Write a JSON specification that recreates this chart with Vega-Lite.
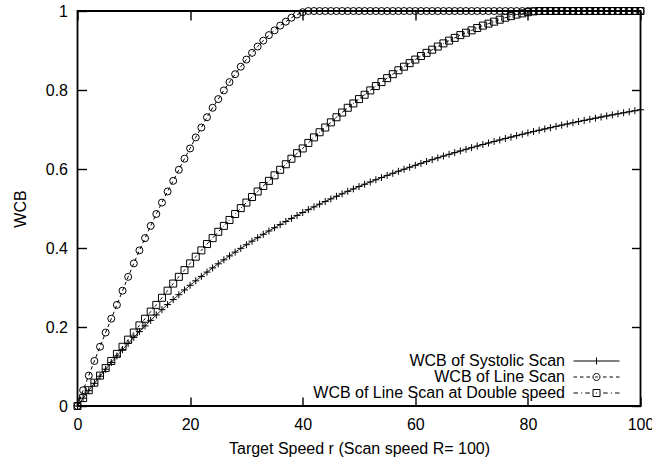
{
  "$schema": "https://vega.github.io/schema/vega-lite/v6.json",
  "autosize": {"type": "none"},
  "width": 563,
  "height": 395,
  "padding": {"left": 77.5, "top": 11, "right": 11.5, "bottom": 55},
  "background": "white",
  "data": {"values": [
    {"r":0,"s":0,"l":0,"d":0},
    {"r":1,"s":0.0197,"l":0.040,"d":0.020},
    {"r":2,"s":0.0388,"l":0.077,"d":0.040},
    {"r":3,"s":0.0574,"l":0.114,"d":0.059},
    {"r":4,"s":0.0754,"l":0.150,"d":0.077},
    {"r":5,"s":0.0930,"l":0.186,"d":0.096},
    {"r":6,"s":0.1100,"l":0.221,"d":0.114},
    {"r":7,"s":0.1266,"l":0.256,"d":0.132},
    {"r":8,"s":0.1427,"l":0.292,"d":0.150},
    {"r":9,"s":0.1583,"l":0.327,"d":0.168},
    {"r":10,"s":0.1736,"l":0.361,"d":0.186},
    {"r":11,"s":0.1884,"l":0.394,"d":0.204},
    {"r":12,"s":0.2028,"l":0.425,"d":0.221},
    {"r":13,"s":0.2168,"l":0.456,"d":0.239},
    {"r":14,"s":0.2305,"l":0.486,"d":0.256},
    {"r":15,"s":0.2439,"l":0.515,"d":0.274},
    {"r":16,"s":0.2568,"l":0.543,"d":0.292},
    {"r":17,"s":0.2695,"l":0.570,"d":0.310},
    {"r":18,"s":0.2818,"l":0.598,"d":0.327},
    {"r":19,"s":0.2938,"l":0.626,"d":0.344},
    {"r":20,"s":0.3056,"l":0.652,"d":0.361},
    {"r":21,"s":0.3170,"l":0.680,"d":0.378},
    {"r":22,"s":0.3281,"l":0.705,"d":0.394},
    {"r":23,"s":0.3390,"l":0.731,"d":0.410},
    {"r":24,"s":0.3496,"l":0.755,"d":0.425},
    {"r":25,"s":0.3600,"l":0.777,"d":0.441},
    {"r":26,"s":0.3701,"l":0.799,"d":0.456},
    {"r":27,"s":0.3800,"l":0.820,"d":0.471},
    {"r":28,"s":0.3896,"l":0.840,"d":0.486},
    {"r":29,"s":0.3991,"l":0.859,"d":0.501},
    {"r":30,"s":0.4083,"l":0.877,"d":0.515},
    {"r":31,"s":0.4173,"l":0.894,"d":0.529},
    {"r":32,"s":0.4261,"l":0.910,"d":0.543},
    {"r":33,"s":0.4347,"l":0.925,"d":0.557},
    {"r":34,"s":0.4431,"l":0.939,"d":0.570},
    {"r":35,"s":0.4513,"l":0.951,"d":0.584},
    {"r":36,"s":0.4593,"l":0.963,"d":0.598},
    {"r":37,"s":0.4672,"l":0.973,"d":0.612},
    {"r":38,"s":0.4749,"l":0.983,"d":0.626},
    {"r":39,"s":0.4824,"l":0.991,"d":0.640},
    {"r":40,"s":0.4898,"l":0.997,"d":0.652},
    {"r":41,"s":0.4970,"l":1,"d":0.666},
    {"r":42,"s":0.5041,"l":1,"d":0.680},
    {"r":43,"s":0.5110,"l":1,"d":0.693},
    {"r":44,"s":0.5177,"l":1,"d":0.705},
    {"r":45,"s":0.5244,"l":1,"d":0.718},
    {"r":46,"s":0.5309,"l":1,"d":0.731},
    {"r":47,"s":0.5372,"l":1,"d":0.743},
    {"r":48,"s":0.5435,"l":1,"d":0.755},
    {"r":49,"s":0.5496,"l":1,"d":0.766},
    {"r":50,"s":0.5556,"l":1,"d":0.777},
    {"r":51,"s":0.5614,"l":1,"d":0.788},
    {"r":52,"s":0.5672,"l":1,"d":0.799},
    {"r":53,"s":0.5728,"l":1,"d":0.810},
    {"r":54,"s":0.5783,"l":1,"d":0.820},
    {"r":55,"s":0.5838,"l":1,"d":0.830},
    {"r":56,"s":0.5891,"l":1,"d":0.840},
    {"r":57,"s":0.5943,"l":1,"d":0.850},
    {"r":58,"s":0.5994,"l":1,"d":0.859},
    {"r":59,"s":0.6044,"l":1,"d":0.868},
    {"r":60,"s":0.6094,"l":1,"d":0.877},
    {"r":61,"s":0.6142,"l":1,"d":0.886},
    {"r":62,"s":0.6190,"l":1,"d":0.894},
    {"r":63,"s":0.6236,"l":1,"d":0.902},
    {"r":64,"s":0.6282,"l":1,"d":0.910},
    {"r":65,"s":0.6327,"l":1,"d":0.918},
    {"r":66,"s":0.6371,"l":1,"d":0.925},
    {"r":67,"s":0.6414,"l":1,"d":0.932},
    {"r":68,"s":0.6457,"l":1,"d":0.939},
    {"r":69,"s":0.6499,"l":1,"d":0.945},
    {"r":70,"s":0.6540,"l":1,"d":0.951},
    {"r":71,"s":0.6580,"l":1,"d":0.957},
    {"r":72,"s":0.6620,"l":1,"d":0.963},
    {"r":73,"s":0.6659,"l":1,"d":0.968},
    {"r":74,"s":0.6697,"l":1,"d":0.973},
    {"r":75,"s":0.6735,"l":1,"d":0.978},
    {"r":76,"s":0.6772,"l":1,"d":0.983},
    {"r":77,"s":0.6808,"l":1,"d":0.987},
    {"r":78,"s":0.6844,"l":1,"d":0.991},
    {"r":79,"s":0.6879,"l":1,"d":0.994},
    {"r":80,"s":0.6914,"l":1,"d":0.997},
    {"r":81,"s":0.6948,"l":1,"d":0.999},
    {"r":82,"s":0.6981,"l":1,"d":1},
    {"r":83,"s":0.7014,"l":1,"d":1},
    {"r":84,"s":0.7046,"l":1,"d":1},
    {"r":85,"s":0.7078,"l":1,"d":1},
    {"r":86,"s":0.7110,"l":1,"d":1},
    {"r":87,"s":0.7140,"l":1,"d":1},
    {"r":88,"s":0.7171,"l":1,"d":1},
    {"r":89,"s":0.7201,"l":1,"d":1},
    {"r":90,"s":0.7230,"l":1,"d":1},
    {"r":91,"s":0.7259,"l":1,"d":1},
    {"r":92,"s":0.7287,"l":1,"d":1},
    {"r":93,"s":0.7315,"l":1,"d":1},
    {"r":94,"s":0.7343,"l":1,"d":1},
    {"r":95,"s":0.7370,"l":1,"d":1},
    {"r":96,"s":0.7397,"l":1,"d":1},
    {"r":97,"s":0.7423,"l":1,"d":1},
    {"r":98,"s":0.7449,"l":1,"d":1},
    {"r":99,"s":0.7475,"l":1,"d":1},
    {"r":100,"s":0.75,"l":1,"d":1}
  ]},
  "transform": [{"fold": ["s", "l", "d"], "as": ["series", "wcb"]}],
  "layer": [
    {
      "mark": {"type": "line", "color": "black", "strokeWidth": 1},
      "encoding": {
        "x": {"field": "r", "type": "quantitative", "scale": {"domain": [0, 100], "nice": false, "zero": false},
              "axis": {"orient": "bottom", "title": "Target Speed r (Scan speed R= 100)", "values": [0, 20, 40, 60, 80, 100], "format": "d", "labelPadding": 10, "titlePadding": 8, "ticks": true, "zindex": 1}},
        "y": {"field": "wcb", "type": "quantitative", "scale": {"domain": [0, 1], "nice": false},
              "axis": {"orient": "left", "title": "WCB", "values": [0, 0.2, 0.4, 0.6, 0.8, 1], "format": ".1~f", "labelPadding": 10, "titlePadding": 17, "ticks": true, "zindex": 1}},
        "detail": {"field": "series"},
        "strokeDash": {"field": "series", "type": "nominal",
                       "scale": {"domain": ["s", "l", "d"], "range": [[1, 0], [3.5, 3], [3, 2.5, 1, 2.5]]},
                       "legend": null}
      }
    },
    {
      "mark": {"type": "point", "filled": false, "color": "black", "strokeWidth": 1, "size": 49, "opacity": 1},
      "encoding": {
        "x": {"field": "r", "type": "quantitative", "scale": {"domain": [0, 100], "nice": false, "zero": false},
              "axis": {"orient": "top", "title": null, "labels": false, "values": [0, 20, 40, 60, 80, 100], "ticks": true, "zindex": 1}},
        "y": {"field": "wcb", "type": "quantitative", "scale": {"domain": [0, 1], "nice": false},
              "axis": {"orient": "right", "title": null, "labels": false, "values": [0, 0.2, 0.4, 0.6, 0.8, 1], "ticks": true, "zindex": 1}},
        "shape": {"field": "series", "type": "nominal",
                  "scale": {"domain": ["s", "l", "d"], "range": ["M-1,0L1,0M0,-1L0,1", "circle", "square"]},
                  "legend": null}
      }
    },
    {
      "transform": [{"filter": "false"}],
      "mark": {"type": "point", "filled": false, "color": "black", "strokeWidth": 1, "size": 49, "opacity": 1},
      "encoding": {
        "x": {"field": "r", "type": "quantitative", "scale": {"domain": [0, 100], "nice": false, "zero": false}, "axis": null},
        "y": {"field": "wcb", "type": "quantitative", "scale": {"domain": [0, 1], "nice": false}, "axis": null},
        "shape": {"field": "series", "type": "nominal",
                  "scale": {"domain": ["WCB of Systolic Scan", "WCB of Line Scan", "WCB of Line Scan at Double speed"],
                            "range": [
                              "M-6.57,0L6.57,0M0,-1L0,1M10.3,0",
                              "M-6.57,0L-5.57,0M-4.71,0L-3.71,0M-2.86,0L-1.86,0M1.86,0L2.86,0M3.71,0L4.71,0M5.57,0L6.57,0M1,0A1,1 0 1,1 -1,0A1,1 0 1,1 1,0M-0.4,0L0.4,0M10.3,0",
                              "M-6.57,0L-5.3,0M-4.4,0L-4.1,0M-3.2,0L-1.9,0M1.9,0L3.2,0M4.1,0L4.4,0M5.3,0L6.57,0M-1,-1L1,-1L1,1L-1,1Z M-0.15,0L0.15,0M10.3,0"
                            ]},
                  "legend": {"title": null, "orient": "bottom-right", "offset": 5, "padding": 0,
                             "labelAlign": "right", "labelOffset": -39.5, "labelFontSize": 16, "labelColor": "black",
                             "labelLimit": 0, "symbolSize": 49, "symbolStrokeWidth": 1, "symbolStrokeColor": "black",
                             "symbolOpacity": 1, "rowPadding": -0.5}}
      }
    }
  ],
  "resolve": {"scale": {"shape": "independent"}, "axis": {"x": "independent", "y": "independent"}},
  "config": {
    "font": "Liberation Sans",
    "view": {"stroke": "black", "strokeWidth": 1.8},
    "axis": {"domain": false, "grid": false, "ticks": true, "tickColor": "black", "tickOpacity": 1, "tickSize": 9, "tickWidth": 1.4, "offset": -9,
             "labelFontSize": 16, "labelColor": "black", "labelFont": "Liberation Sans", "labelFlush": false,
             "titleFontSize": 16, "titleFontWeight": "normal", "titleColor": "black", "titleFont": "Liberation Sans"},
    "legend": {"labelFont": "Liberation Sans"}
  }
}
